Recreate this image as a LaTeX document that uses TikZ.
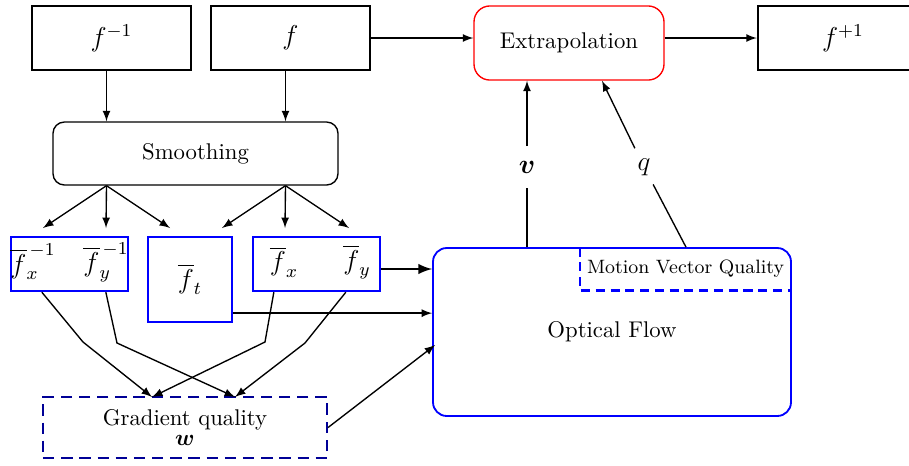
\documentclass[tikz,border=0pt]{standalone}
\usepackage{amsmath}
\usepackage{amssymb}
\usepackage{bm}
\usetikzlibrary{calc}

\definecolor{gqblue}{RGB}{0,0,150}

\begin{document}
\begin{tikzpicture}[x=0.44pt,y=-0.44pt,>=latex,
    blk/.style={draw,line width=0.9pt,inner sep=0pt,font=\large},
    gbox/.style={draw=blue,line width=1pt,inner sep=0pt,font=\large},
    lbl/.style={inner sep=1pt,minimum height=18pt,font=\large}]
    \useasboundingbox (0,0) rectangle (909,465);
    % inputs and output
    \node[blk,minimum width=70pt,minimum height=28.2pt] (fm) at (111.5,38) {$f^{-1}$};
    \node[blk,minimum width=70pt,minimum height=28.2pt] (f) at (290.5,38) {$f$};
    \node[draw=red,line width=0.6pt,rounded corners=7pt,minimum width=83.6pt,minimum height=32.6pt] (ex) at (569,43) {Extrapolation};
    \node[blk,minimum width=75pt,minimum height=28.2pt] (fp) at (843,38) {$f^{+1}$};
    \node[draw,line width=0.6pt,rounded corners=5pt,minimum width=125.4pt,minimum height=27.7pt] (sm) at (195.5,153.5) {Smoothing};
    %
    \draw[->,semithick] ($(fm.south)+(-5,0)$) coordinate (s1) -- (s1 |- sm.north);
    \draw[->,semithick] ($(f.south)+(-5,0)$) coordinate (s2) -- (s2 |- sm.north);
    \draw[->,semithick] (f.east) -- (f.east -| ex.west);
    \draw[->,semithick] (ex.east |- fp.west) -- (fp.west);
    % gradients
    \node[gbox,minimum width=51.5pt,minimum height=23.8pt] (gm) at (69.5,264) {};
    \node[gbox,minimum width=37pt,minimum height=37.4pt] (ft) at (190,279.5) {$\overline{f}_t$};
    \node[gbox,minimum width=55.9pt,minimum height=23.8pt] (g) at (316.5,264) {};
    \node[font=\large] (gxm) at (33,262) {$\overline{f}_x^{\,-1}$};
    \node[font=\large] (gym) at (106,262) {$\overline{f}_y^{\,-1}$};
    \node[font=\large] (gx) at (284,262) {$\overline{f}_x$};
    \node[font=\large] (gy) at (357,262) {$\overline{f}_y$};
    \coordinate (t1) at (43,228);
    \coordinate (t2) at (106,228);
    \coordinate (t3) at (170,228);
    \coordinate (t4) at (222,228);
    \coordinate (t5) at (285,228);
    \coordinate (t6) at (349,228);
    \foreach \t in {t1,t2,t3} \draw[->,semithick] (s1 |- sm.south) -- (\t);
    \foreach \t in {t4,t5,t6} \draw[->,semithick] (s2 |- sm.south) -- (\t);
    % optical flow
    \node[draw=blue,line width=0.8pt,rounded corners=6pt,minimum width=157.5pt,minimum height=73.9pt] (of) at (612,332) {Optical Flow};
    \node[inner sep=0pt,minimum width=92.8pt,minimum height=18.5pt,font=\fontsize{8.5}{10}\selectfont] (mvq) at (685.5,269) {Motion Vector Quality};
    \draw[blue,line width=0.9pt,dash pattern=on 4pt off 2.5pt] (mvq.north west) -- (mvq.south west) -- (mvq.south east);
    \node[draw=gqblue,line width=0.9pt,dash pattern=on 5pt off 3pt,inner sep=0pt,minimum width=125pt,minimum height=26.8pt,align=center] (gq) at (185,427.5) {Gradient quality\\[-3pt] $\bm{w}$};
    %
    \draw[->,line width=1.1pt] ($(g.east)+(0,5)$) -- ($(g.east -| of.west)+(0,5)$);
    \draw[->,semithick] ($(ft.south east)+(0,-10)$) coordinate (s3) -- (s3 -| of.west);
    \draw[->,semithick] (gq.east) -- ($(of.west)+(3,13)$);
    % gradient quality inputs
    \coordinate (w1) at (152,397);
    \coordinate (w2) at (235,397);
    \draw[->,semithick] ($(gm.south west)+(32,0)$) -- (83,342) -- (w1);
    \draw[->,semithick] ($(gm.south west)+(96,0)$) -- (117,343) -- (w2);
    \draw[->,semithick] ($(g.south west)+(22,0)$) -- (265,342) -- (w1);
    \draw[->,semithick] ($(g.south west)+(94,0)$) -- (305,343) -- (w2);
    % motion vectors and quality
    \node[lbl] (v) at (527,167) {$\bm{v}$};
    \node[lbl] (q) at (644,167) {$q$};
    \draw[semithick] (v |- of.north) -- (v);
    \draw[->,semithick] (v) -- (v |- ex.south);
    \draw[semithick] ($(of.north)+(74,0)$) -- (q);
    \draw[->,semithick] (q) -- ($(ex.south)+(33,0)$);
\end{tikzpicture}
\end{document}
